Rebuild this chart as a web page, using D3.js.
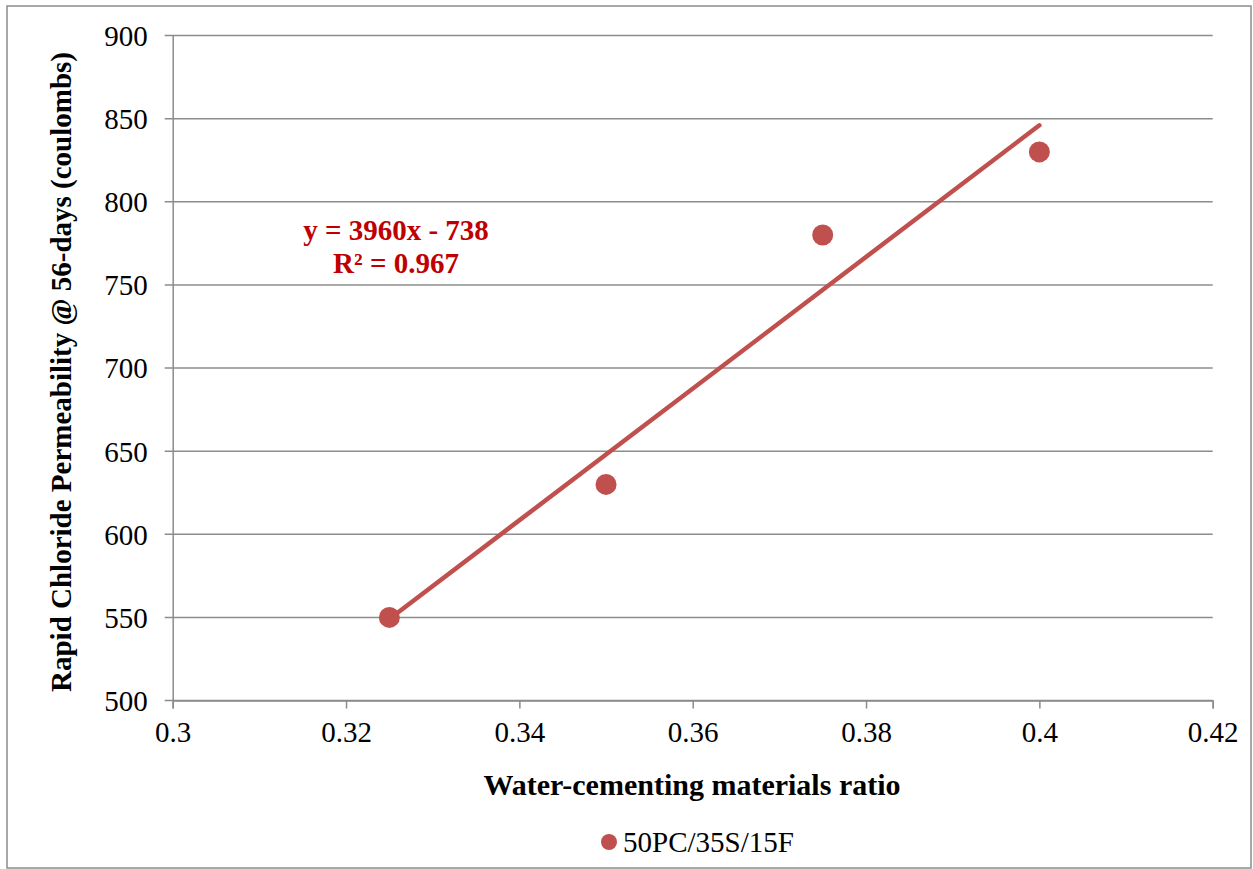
<!DOCTYPE html>
<html>
<head>
<meta charset="utf-8">
<script src="https://cdn.jsdelivr.net/npm/d3@7"></script>
<style>
  body { margin: 0; background: #fff; }
  text { font-family: "Liberation Serif", "Times New Roman", serif; }
</style>
</head>
<body>
<svg id="chart" width="1253" height="869"></svg>
<script>
// data
const wcRatio = [0.325, 0.35, 0.375, 0.4]
const rcp56 = [550, 630, 780, 830]
const xTicks = [0.3, 0.32, 0.34, 0.36, 0.38, 0.4, 0.42]
const yTicks = [500, 550, 600, 650, 700, 750, 800, 850, 900]
const fitSlope = 3960
const fitIntercept = -738
const seriesName = "50PC/35S/15F"

const red = "#c0504d"
const grid = "#8c8c8c"

const svg = d3.select('#chart')

// outer border
svg.append("rect")
  .attr("x", 7).attr("y", 6)
  .attr("width", 1244).attr("height", 862)
  .attr("fill", "none")
  .attr("stroke", "#8c8c8c")
  .attr("stroke-width", 1.5)

var x = d3.scaleLinear().domain([0.3, 0.42]).range([172.7, 1212.7])
var y = d3.scaleLinear().domain([500, 900]).range([700.5, 35.5])

// horizontal gridlines
svg.append("g")
  .selectAll("line")
  .data(yTicks)
  .enter().append("line")
  .attr("x1", x(0.3) - 8)
  .attr("x2", x(0.42))
  .attr("y1", d => y(d))
  .attr("y2", d => y(d))
  .attr("stroke", grid)
  .attr("stroke-width", 1.5)

// y axis
var yAxis = d3.axisLeft(y).tickValues(yTicks).tickSize(0).tickPadding(25)
var gy = svg.append("g").attr("transform", "translate(" + x(0.3) + ",0)").call(yAxis)
gy.select(".domain").attr("stroke", grid).attr("stroke-width", 1.5)
gy.selectAll("text").attr("font-size", 29).attr("fill", "#000")
  .attr("font-family", "Liberation Serif").attr("dy", "0.34em")

// x axis
var xAxis = d3.axisBottom(x).tickValues(xTicks).tickSize(8).tickPadding(13)
  .tickFormat(d => d3.format("")(+d.toFixed(2)))
var gx = svg.append("g").attr("transform", "translate(0," + y(500) + ")").call(xAxis)
gx.select(".domain").attr("stroke", grid).attr("stroke-width", 1.5)
gx.selectAll("line").attr("stroke", grid).attr("stroke-width", 1.5)
gx.selectAll("text").attr("font-size", 29).attr("fill", "#000")
  .attr("font-family", "Liberation Serif")

// trendline
var fit = d3.extent(wcRatio).map(v => ({x: v, y: fitSlope * v + fitIntercept}))
svg.append("path")
  .datum(fit)
  .attr("d", d3.line().x(d => x(d.x)).y(d => y(d.y)))
  .attr("stroke", red)
  .attr("stroke-width", 4.5)
  .attr("stroke-linecap", "round")
  .attr("fill", "none")

// points
svg.append("g")
  .selectAll("circle")
  .data(wcRatio)
  .enter().append("circle")
  .attr("cx", d => x(d))
  .attr("cy", (d, i) => y(rcp56[i]))
  .attr("r", 10.5)
  .attr("fill", red)

// equation
svg.append("text")
  .attr("x", 396).attr("y", 240)
  .attr("text-anchor", "middle")
  .attr("font-size", 29).attr("font-weight", "bold")
  .attr("fill", "#c00000")
  .text("y = " + fitSlope + "x - " + Math.abs(fitIntercept))
svg.append("text")
  .attr("x", 396).attr("y", 273)
  .attr("text-anchor", "middle")
  .attr("font-size", 29).attr("font-weight", "bold")
  .attr("fill", "#c00000")
  .text("R² = 0.967")

// axis titles
svg.append("text")
  .attr("x", 692).attr("y", 795)
  .attr("text-anchor", "middle")
  .attr("font-size", 30).attr("font-weight", "bold")
  .text("Water-cementing materials ratio")

svg.append("text")
  .attr("transform", "translate(71,372) rotate(-90)")
  .attr("text-anchor", "middle")
  .attr("font-size", 29).attr("font-weight", "bold")
  .text("Rapid Chloride Permeability @ 56-days (coulombs)")

// legend
svg.append("circle")
  .attr("cx", 609).attr("cy", 842).attr("r", 8)
  .attr("fill", red)
svg.append("text")
  .attr("x", 623).attr("y", 852)
  .attr("font-size", 29)
  .text(seriesName)
</script>
</body>
</html>
